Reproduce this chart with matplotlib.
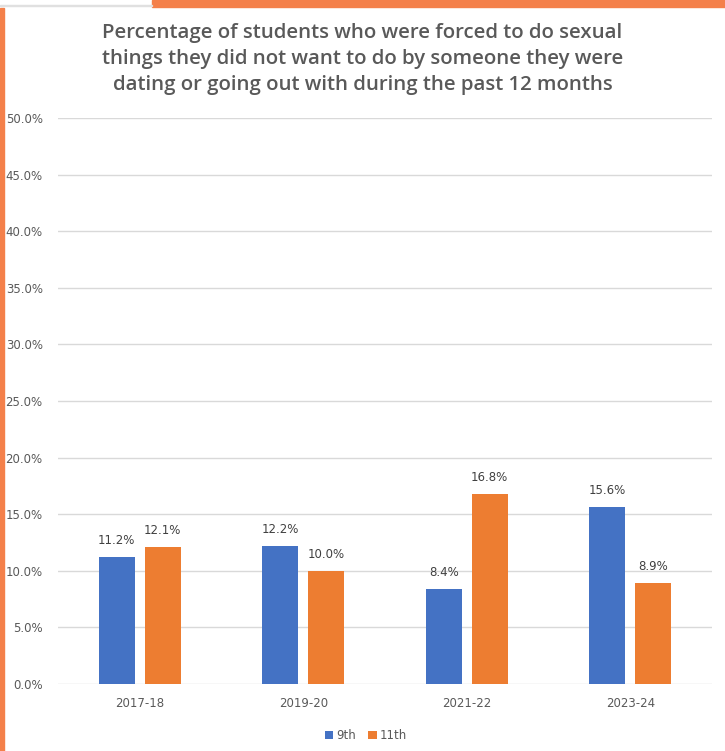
import matplotlib.pyplot as plt
import matplotlib.patches as mpatches
import numpy as np

years = ["2017-18", "2019-20", "2021-22", "2023-24"]
ninth = [11.2, 12.2, 8.4, 15.6]
eleventh = [12.1, 10.0, 16.8, 8.9]
series_names = ["9th", "11th"]

blue = "#4472C4"
orange = "#ED7D31"
gray_txt = "#595959"

fig = plt.figure(figsize=(7.25, 7.51), dpi=100)
ax = fig.add_axes([0.08, 0.0892, 0.902, 0.7537])

x = np.arange(len(years))
w = 0.22
off = 0.14
b1 = ax.bar(x - off, ninth, w, color=blue, label=series_names[0], zorder=3)
b2 = ax.bar(x + off, eleventh, w, color=orange, label=series_names[1], zorder=3)

for bars, vals in [(b1, ninth), (b2, eleventh)]:
    for r, v in zip(bars, vals):
        ax.text(r.get_x() + r.get_width() / 2, v + 0.9, f"{v:.1f}%",
                ha="center", va="bottom", fontsize=8.5, color="#404040")

ax.set_xlim(-0.5, 3.5)
ax.set_ylim(0, 50)
ax.set_yticks(np.arange(0, 50.1, 5))
ax.set_yticklabels([f"{t:.1f}%" for t in np.arange(0, 50.1, 5)])
ax.set_xticks(x)
ax.set_xticklabels(years)
ax.tick_params(axis="both", length=0, labelsize=8.5, colors=gray_txt)
ax.tick_params(axis="x", pad=9)
ax.tick_params(axis="y", pad=11)
ax.grid(axis="y", color="#D9D9D9", linewidth=1, zorder=0)
for s in ax.spines.values():
    s.set_visible(False)

fig.text(0.5, 0.969,
         "Percentage of students who were forced to do sexual\n"
         "things they did not want to do by someone they were\n"
         "dating or going out with during the past 12 months",
         ha="center", va="top", fontsize=14.7, fontweight="semibold",
         color=gray_txt, linespacing=1.38, family="Open Sans")

fig.legend(handles=[b1, b2], loc="center", bbox_to_anchor=(0.505, 0.02),
           ncol=2, frameon=False, fontsize=8.5, handlelength=0.7,
           handleheight=0.7, handletextpad=0.3, columnspacing=1.0,
           labelcolor=gray_txt)

# orange page decorations
fig.patches.append(mpatches.Rectangle((0, 0), 0.006, 0.99, color="#F4804A",
                                      transform=fig.transFigure, figure=fig))
fig.patches.append(mpatches.Rectangle((0.21, 0.991), 0.79, 0.009, color="#F4804A",
                                      transform=fig.transFigure, figure=fig))
fig.patches.append(mpatches.Rectangle((0, 0.992), 0.21, 0.002, color="#E0E0E0",
                                      transform=fig.transFigure, figure=fig))

fig.savefig("out.png", dpi=100)
